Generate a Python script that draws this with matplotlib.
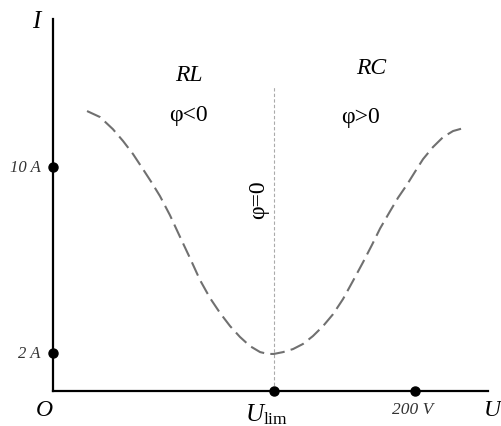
import matplotlib
matplotlib.use("Agg")
from matplotlib import pyplot as plt

plt.rcParams['font.family'] = ['Liberation Serif', 'DejaVu Serif']
plt.rcParams['mathtext.fontset'] = 'custom'
plt.rcParams['mathtext.rm'] = 'Liberation Serif'
plt.rcParams['mathtext.it'] = 'Liberation Serif:italic'

# krzywa rezonansowa I(U) - wartosci
u_vals = [18.8, 26.0, 33.1, 38.7, 44.2, 49.7, 54.7, 59.1, 64.6, 70.2,
          75.7, 81.2, 86.7, 92.3, 97.8, 103.3, 108.8, 114.4, 118.8, 122.0,
          127.1, 132.6, 138.1, 143.6, 149.2, 154.7, 160.2, 165.7, 171.3, 176.2,
          180.7, 186.2, 190.6, 195.6, 200.0, 204.4, 209.9, 215.5, 221.0, 228.7]
i_vals = [12.41, 12.15, 11.63, 11.12, 10.56, 9.91, 9.31, 8.75, 7.93, 6.99,
          6.08, 5.14, 4.37, 3.72, 3.16, 2.69, 2.30, 2.04, 1.96, 1.96,
          2.04, 2.17, 2.39, 2.73, 3.16, 3.67, 4.32, 5.10, 5.91, 6.65,
          7.36, 8.10, 8.68, 9.25, 9.80, 10.34, 10.86, 11.29, 11.55, 11.72]

u_lim = 122.0
i_ticks = [10, 2]
i_tick_labels = ["10 A", "2 A"]
u_ticks = [u_lim, 200]

fig = plt.figure(figsize=(5.01, 4.27), dpi=100)
ax = fig.add_axes([53/501, 35/427, 435/501, 372/427])
ax.set_xlim(0, 240.3)
ax.set_ylim(0.366, 16.37)

for s in ['top', 'right']:
    ax.spines[s].set_visible(False)
ax.spines['left'].set_linewidth(1.6)
ax.spines['bottom'].set_linewidth(1.6)
ax.set_xticks([])
ax.set_yticks([])

# linia phi = 0
ax.plot([u_lim, u_lim], [0.366, 13.44], color='#aaaaaa', lw=0.8, dashes=(3, 2))

# krzywa
ax.plot(u_vals, i_vals, color='#707070', lw=1.5, dashes=(7, 3))

# punkty na osiach
ax.plot([0] * len(i_ticks), i_ticks, 'o', color='black', ms=6.5, clip_on=False, zorder=5)
ax.plot(u_ticks, [0.366] * len(u_ticks), 'o', color='black', ms=6.5, clip_on=False, zorder=5)

for y, lab in zip(i_ticks, i_tick_labels):
    ax.text(-6.8, y, lab, ha='right', va='center', fontsize=12, style='italic',
            color='#333333', clip_on=False)

ax.text(-9.4, 16.28, "I", ha='center', va='center', fontsize=18, style='italic', clip_on=False)
ax.text(-5, -0.41, "O", ha='center', va='center', fontsize=17, style='italic', clip_on=False)
ax.text(117.7, -0.6, r"$U_{\mathrm{lim}}$", ha='center', va='center', fontsize=18, clip_on=False)
ax.text(198.9, -0.41, "200 V", ha='center', va='center', fontsize=12.5, style='italic',
        color='#333333', clip_on=False)
ax.text(242.5, -0.45, "U", ha='center', va='center', fontsize=17, style='italic', clip_on=False)

ax.text(75.1, 14.0, "RL", ha='center', va='center', fontsize=17, style='italic')
ax.text(74.6, 12.24, "φ<0", ha='center', va='center', fontsize=17)
ax.text(175.7, 14.3, "RC", ha='center', va='center', fontsize=17, style='italic')
ax.text(169.6, 12.19, "φ>0", ha='center', va='center', fontsize=17)
ax.text(113.8, 8.62, "φ=0", ha='center', va='center', fontsize=17, rotation=90)

fig.savefig("out.png", dpi=100)
